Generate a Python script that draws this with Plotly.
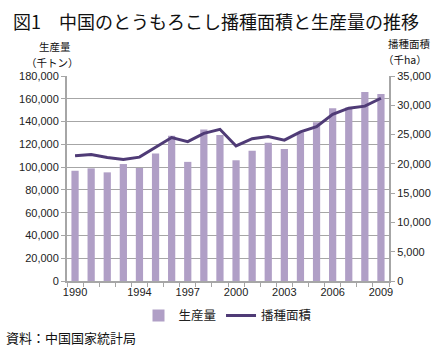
import plotly.graph_objects as go

years = list(range(1990, 2010))
production = [96800, 98900, 95400, 102700, 99300, 112000, 127500, 104600, 133000, 128300,
              106000, 114300, 121300, 115800, 130300, 139500, 151700, 152300, 166000, 164100]
area = [21400, 21600, 21100, 20750, 21150, 22800, 24500, 23800, 25200, 25900,
        23050, 24300, 24650, 24050, 25450, 26350, 28450, 29500, 29850, 31200]
tick_years = [1990, 1994, 1997, 2000, 2003, 2006, 2009]

font = "Noto Sans CJK JP"
bar_color = "#B09FC6"
line_color = "#4F3B76"
grid = "#A6A6A6"

fig = go.Figure()
fig.add_trace(go.Bar(x=years, y=production, name="生産量", marker_color=bar_color,
                     marker_line_width=0, yaxis="y"))
fig.add_trace(go.Scatter(x=years, y=area, name="播種面積", mode="lines",
                         line=dict(color=line_color, width=3), yaxis="y2"))

fig.update_layout(
    width=445, height=352,
    margin=dict(l=67, r=56, t=76, b=71),
    paper_bgcolor="white", plot_bgcolor="white",
    font=dict(family=font, size=11, color="#222222"),
    bargap=0.55,
    showlegend=True,
    legend=dict(orientation="h", x=0.5, xanchor="center", y=-0.17, yanchor="middle",
                font=dict(size=12.5, family=font), itemwidth=30, traceorder="normal"),
    xaxis=dict(range=[1989.5, 2009.5], tickvals=tick_years,
               ticktext=[str(y) for y in tick_years], ticks="",
               showline=True, linecolor=grid, linewidth=2, showgrid=False, zeroline=False,
               tickfont=dict(family="Liberation Sans", size=11),
               minor=dict(tick0=1989.5, dtick=1, ticks="outside", ticklen=4,
                          tickcolor=grid, showgrid=False)),
    yaxis=dict(range=[0, 180000], dtick=20000, tickformat=",d", showgrid=True,
               gridcolor=grid, gridwidth=1, showline=True, linecolor=grid, linewidth=2,
               ticks="outside", ticklen=4, tickcolor=grid, zeroline=False,
               tickfont=dict(family="Liberation Sans", size=11)),
    yaxis2=dict(range=[0, 35000], dtick=5000, tickformat=",d", overlaying="y", side="right",
                showgrid=False, showline=True, linecolor=grid, linewidth=2,
                ticks="outside", ticklen=4, tickcolor=grid, zeroline=False,
                tickfont=dict(family="Liberation Sans", size=11)),
)

def note(text, x, y, size=11, anchor="center"):
    fig.add_annotation(text=text, xref="paper", yref="paper", x=x, y=y,
                       xanchor=anchor, yanchor="middle", showarrow=False,
                       font=dict(size=size, family=font, color="#111111"))

note("図1　中国のとうもろこし播種面積と生産量の推移", -0.175, 1.27, size=18, anchor="left")
note("生産量", -0.037, 1.145, size=10.5)
note("（千トン）", -0.045, 1.068, size=10.5)
note("播種面積", 1.065, 1.16, size=10.5)
note("（千ha）", 1.05, 1.082, size=10.5)
note("資料：中国国家統計局", -0.195, -0.278, size=13, anchor="left")

fig.write_html("out.html")
